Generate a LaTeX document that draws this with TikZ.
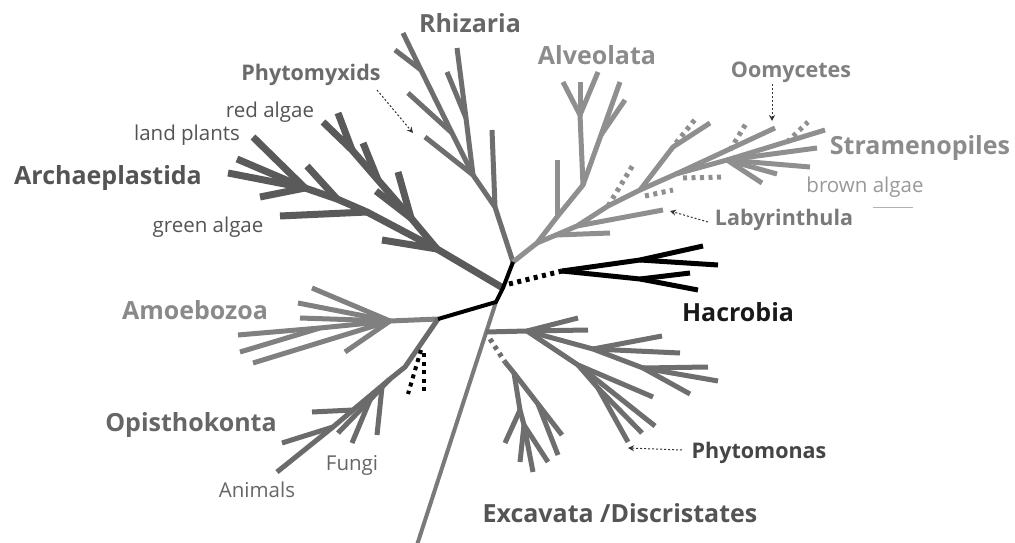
\documentclass[tikz,border=0pt]{standalone}
\usepackage{fontspec}
\setmainfont{Open Sans}
\usetikzlibrary{arrows.meta}
\definecolor{archc}{HTML}{5A5A5A}
\definecolor{rhic}{HTML}{6E6E6E}
\definecolor{strc}{HTML}{8F8F8F}
\definecolor{exc}{HTML}{6E6E6E}
\definecolor{amoc}{HTML}{808080}
\definecolor{opic}{HTML}{6B6B6B}
\definecolor{trunkc}{HTML}{7A7A7A}
\tikzset{
  br/.style={line width=5pt, line join=round, line cap=butt},
  archbr/.style={br, line width=7pt, draw=archc},
  rhibr/.style={br, draw=rhic},
  strbr/.style={br, draw=strc},
  exbr/.style={br, draw=exc},
  amobr/.style={br, draw=amoc},
  opibr/.style={br, draw=opic},
  hacbr/.style={br, draw=black},
  corebr/.style={line width=4pt, draw=black, line join=round},
  trunkbr/.style={line width=4pt, draw=trunkc},
  dotbr/.style={line width=5pt, dash pattern=on 4pt off 4.5pt, line cap=butt},
  callout/.style={draw=black!80, line width=1pt, dash pattern=on 2pt off 2pt, -{Stealth[length=6pt,width=6pt]}},
  big/.style={font=\fontsize{25}{29}\selectfont\bfseries, inner sep=0pt},
  mid/.style={font=\fontsize{21.5}{25}\selectfont\bfseries, inner sep=0pt},
  small/.style={font=\fontsize{20.5}{24}\selectfont, inner sep=0pt},
}
\begin{document}
\begin{tikzpicture}[x=1pt,y=-1pt]
\fill[white] (0,0) rectangle (1015,543);
\useasboundingbox (0,0) rectangle (1015,543);

% ---------- core coordinates
\coordinate (c1) at (513,262);
\coordinate (c2) at (503,288);
\coordinate (c3) at (496,302);
\coordinate (am0) at (438,319);
\coordinate (tb) at (417,545);
\coordinate (hd) at (509,284);

% ---------- trunk
\draw[trunkbr] (c3) -- (tb);

% ---------- Archaeplastida
\coordinate (a1) at (437,249);
\coordinate (a1l) at (382,240);
\coordinate (a2) at (367,212);
\coordinate (a2l) at (280,216);
\coordinate (a3) at (337,199);
\coordinate (a3l) at (307,166);
\coordinate (a4) at (305,188);
\coordinate (a4a) at (253,137);
\coordinate (a4b) at (237,159);
\coordinate (a4c) at (228,173);
\coordinate (a4d) at (260,197);
\coordinate (r1) at (411,218);
\coordinate (r1l) at (398,172);
\coordinate (r1s) at (376,191);
\coordinate (r2) at (378,180);
\coordinate (r2l) at (363,143);
\coordinate (r3) at (352,150);
\coordinate (r3l) at (338,113);
\coordinate (rtip) at (323,122);
\draw[archbr] (c2) -- (a1) -- (a2) -- (a3) -- (a4);
\draw[archbr] (a1) -- (a1l);
\draw[archbr] (a2) -- (a2l);
\draw[archbr] (a3) -- (a3l);
\draw[archbr] (a4) -- (a4a);
\draw[archbr] (a4) -- (a4b);
\draw[archbr] (a4) -- (a4c);
\draw[archbr] (a4) -- (a4d);
\draw[archbr] (a1) -- (r1) -- (r2) -- (r3) -- (rtip);
\draw[archbr] (r1) -- (r1l);
\draw[archbr] (r1) -- (r1s);
\draw[archbr] (r2) -- (r2l);
\draw[archbr] (r3) -- (r3l);

% ---------- Rhizaria
\coordinate (rh1) at (495,207);
\coordinate (rh1l) at (492,130);
\coordinate (rh2) at (473,175);
\coordinate (rh2a) at (466,118);
\coordinate (rh2al) at (447,72);
\coordinate (rh2l) at (457,48);
\coordinate (rh2b) at (425,137);
\coordinate (rh3) at (452,133);
\coordinate (rh3l) at (408,93);
\coordinate (rh4) at (421,70);
\coordinate (rh4l) at (395,50);
\coordinate (rhtip) at (403,33);
\draw[rhibr] (c1) -- (rh1) -- (rh2) -- (rh3) -- (rh4) -- (rhtip);
\draw[rhibr] (rh1) -- (rh1l);
\draw[rhibr] (rh2) -- (rh2a) -- (rh2l);
\draw[rhibr] (rh2a) -- (rh2al);
\draw[rhibr] (rh2) -- (rh2b);
\draw[rhibr] (rh3) -- (rh3l);
\draw[rhibr] (rh4) -- (rh4l);

% ---------- Alveolata
\coordinate (s1) at (537,243);
\coordinate (al1) at (557,217);
\coordinate (al1l) at (557,160);
\coordinate (al2) at (583,185);
\coordinate (al3) at (580,115);
\coordinate (al3a) at (563,82);
\coordinate (al3b) at (580,82);
\coordinate (al3c) at (598,72);
\coordinate (al4) at (601,135);
\coordinate (al4l) at (620,82);
\coordinate (al4a) at (625,100);
\draw[strbr] (c1) -- (s1) -- (al1) -- (al2) -- (al3);
\draw[strbr] (al1) -- (al1l);
\draw[strbr] (al3) -- (al3a);
\draw[strbr] (al3) -- (al3b);
\draw[strbr] (al3) -- (al3c);
\draw[strbr] (al2) -- (al4) -- (al4l);
\draw[strbr] (al4) -- (al4a);

% ---------- Stramenopiles
\coordinate (s2) at (556,235);
\coordinate (s2l) at (610,233);
\coordinate (s3) at (577,226);
\coordinate (s3l) at (663,210);
\coordinate (s4) at (608,206);
\coordinate (s4d) at (633,165);
\coordinate (s5) at (640,190);
\coordinate (s5a) at (673,147);
\coordinate (s5al) at (710,123);
\coordinate (s5ad0) at (676,143);
\coordinate (s5ad) at (697,117);
\coordinate (s5d0) at (645,196);
\coordinate (s5d) at (673,190);
\coordinate (s6) at (676,174);
\coordinate (s6d0) at (683,178);
\coordinate (s6d) at (723,177);
\coordinate (oo) at (775,128);
\coordinate (ood0) at (730,150);
\coordinate (ood) at (747,122);
\coordinate (s7) at (727,160);
\coordinate (s7tip) at (825,130);
\coordinate (s7a) at (817,148);
\coordinate (s7b) at (810,167);
\coordinate (s7c) at (777,174);
\coordinate (s7d) at (762,183);
\coordinate (s7d0) at (787,142);
\coordinate (s7dd) at (808,122);
\draw[strbr] (s1) -- (s2) -- (s3) -- (s4) -- (s5) -- (s6) -- (s7) -- (s7tip);
\draw[strbr] (s2) -- (s2l);
\draw[strbr] (s3) -- (s3l);
\draw[strbr] (s5) -- (s5a) -- (s5al);
\draw[strbr] (s6) -- (oo);
\draw[strbr] (s7) -- (s7a);
\draw[strbr] (s7) -- (s7b);
\draw[strbr] (s7) -- (s7c);
\draw[strbr] (s7) -- (s7d);
\draw[dotbr, draw=strc] (s4) -- (s4d);
\draw[dotbr, draw=strc] (s5ad0) -- (s5ad);
\draw[dotbr, draw=strc] (s5d0) -- (s5d);
\draw[dotbr, draw=strc] (s6d0) -- (s6d);
\draw[dotbr, draw=strc] (ood0) -- (ood);
\draw[dotbr, draw=strc] (s7d0) -- (s7dd);

% ---------- Excavata
\coordinate (e0) at (486,332);
\coordinate (e1) at (527,331);
\coordinate (e1a) at (578,318);
\coordinate (e1b) at (588,330);
\coordinate (e2) at (593,349);
\coordinate (e2a) at (662,336);
\coordinate (e2b) at (680,353);
\coordinate (e3) at (643,368);
\coordinate (e3a) at (708,367);
\coordinate (e3b) at (718,381);
\coordinate (etip) at (690,394);
\coordinate (e4) at (578,365);
\coordinate (e4a) at (653,397);
\coordinate (e4b) at (655,426);
\coordinate (e5) at (598,388);
\coordinate (e5a) at (642,433);
\coordinate (e5b) at (628,442);
\draw[exbr] (e0) -- (e1) -- (e2) -- (e3) -- (etip);
\draw[exbr] (e1) -- (e1a);
\draw[exbr] (e1) -- (e1b);
\draw[exbr] (e2) -- (e2a);
\draw[exbr] (e2) -- (e2b);
\draw[exbr] (e3) -- (e3a);
\draw[exbr] (e3) -- (e3b);
\draw[exbr] (e1) -- (e4) -- (e4a);
\draw[exbr] (e4) -- (e4b);
\draw[exbr] (e4) -- (e5) -- (e5a);
\draw[exbr] (e5) -- (e5b);

\coordinate (ed00) at (490,339);
\coordinate (ed0) at (505,362);
\coordinate (edtip) at (562,435);
\coordinate (ed1) at (514,373);
\coordinate (ed2) at (538,404);
\coordinate (ed2l) at (558,455);
\coordinate (edd) at (533,472);
\coordinate (ed3) at (520,410);
\coordinate (ed3l) at (505,443);
\coordinate (ed4) at (524,425);
\coordinate (ed4a) at (520,462);
\coordinate (ed4b) at (548,462);
\draw[dotbr, draw=exc] (ed00) -- (ed0);
\draw[exbr] (ed0) -- (ed1) -- (ed2) -- (edtip);
\draw[exbr] (ed2) -- (ed2l);
\draw[exbr] (ed1) -- (ed3) -- (ed4) -- (edd);
\draw[exbr] (ed3) -- (ed3l);
\draw[exbr] (ed4) -- (ed4a);
\draw[exbr] (ed4) -- (ed4b);

% ---------- Amoebozoa
\coordinate (am1) at (390,321);
\coordinate (am1a) at (312,288);
\coordinate (am1b) at (298,303);
\coordinate (am1c) at (300,318);
\coordinate (am1d) at (345,352);
\coordinate (am1e) at (253,363);
\coordinate (am2) at (320,328);
\coordinate (am2a) at (238,335);
\coordinate (am2b) at (240,352);
\draw[amobr] (am0) -- (am1) -- (am2) -- (am2a);
\draw[amobr] (am2) -- (am2b);
\draw[amobr] (am1) -- (am1a);
\draw[amobr] (am1) -- (am1b);
\draw[amobr] (am1) -- (am1c);
\draw[amobr] (am1) -- (am1d);
\draw[amobr] (am1) -- (am1e);

% ---------- Opisthokonta
\coordinate (op1) at (405,367);
\coordinate (fu0) at (390,379);
\coordinate (op2) at (353,410);
\coordinate (op2l) at (312,412);
\coordinate (op3) at (333,427);
\coordinate (op3l) at (282,443);
\coordinate (optip) at (277,472);
\coordinate (fu1) at (382,387);
\coordinate (fu1l) at (377,435);
\coordinate (fu2) at (370,400);
\coordinate (fu2l) at (352,443);
\coordinate (futip) at (338,433);
\draw[opibr] (am0) -- (op1) -- (fu0) -- (op2) -- (op3) -- (optip);
\draw[opibr] (op2) -- (op2l);
\draw[opibr] (op3) -- (op3l);
\draw[opibr] (fu0) -- (fu1) -- (fu2) -- (futip);
\draw[opibr] (fu1) -- (fu1l);
\draw[opibr] (fu2) -- (fu2l);
\coordinate (od0) at (421,350);
\coordinate (od1) at (408,394);
\coordinate (od2) at (424,353);
\coordinate (od3) at (424,394);
\draw[dotbr, draw=black, line width=4pt] (od0) -- (od1);
\draw[dotbr, draw=black, line width=4pt] (od2) -- (od3);

% ---------- Hacrobia
\coordinate (h0) at (562,271);
\coordinate (h1) at (640,260);
\coordinate (h1a) at (703,246);
\coordinate (h1b) at (718,265);
\coordinate (h2) at (640,279);
\coordinate (h2a) at (690,273);
\coordinate (h2b) at (698,290);
\draw[dotbr, draw=black] (hd) -- (h0);
\draw[hacbr] (h0) -- (h1) -- (h1a);
\draw[hacbr] (h1) -- (h1b);
\draw[hacbr] (h0) -- (h2) -- (h2a);
\draw[hacbr] (h2) -- (h2b);

% ---------- black core
\draw[corebr] (c1) -- (c2) -- (c3) -- (am0);

% ---------- labels
\node[big, text=black!60] (lrhi) at (470,23) {Rhizaria};
\node[big, text=black!45] (lalv) at (597,55) {Alveolata};
\node[mid, text=black!50] (loom) at (791,72) {Oomycetes};
\node[big, text=black!45] (lstr) at (920,148) {Stramenopiles};
\node[small, text=black!40] (lbrown) at (865,187) {brown algae};
\node[mid, text=black!52] (llab) at (784,220) {Labyrinthula};
\node[mid, text=black!58] (lphx) at (311,75) {Phytomyxids};
\node[small, text=black!67] (lred) at (270,112) {red algae};
\node[small, text=black!67] (lland) at (187,135) {land plants};
\node[big, text=black!67] (larch) at (108,178) {Archaeplastida};
\node[small, text=black!67] (lgreen) at (208,227) {green algae};
\node[big, text=black!46] (lamo) at (195,310) {Amoebozoa};
\node[big, text=black!60] (lopi) at (191,425) {Opisthokonta};
\node[small, text=black!60] (lfun) at (352,465) {Fungi};
\node[small, text=black!60] (lani) at (257,490) {Animals};
\node[big, text=black!90] (lhac) at (738,312) {Hacrobia};
\node[mid, text=black!73] (lphm) at (759,453) {Phytomonas};
\node[big, text=black!67] (lexc) at (620,513) {Excavata /Discristates};

\coordinate (bl0) at (873,207);
\coordinate (bl1) at (913,207);
\draw[black!30, line width=0.8pt] (bl0) -- (bl1);

% ---------- callout arrows
\coordinate (pa0) at (377,90);
\coordinate (pa1) at (413,133);
\coordinate (oa0) at (772,84);
\coordinate (oa1) at (772,121);
\coordinate (la0) at (708,222);
\coordinate (la1) at (670,211);
\coordinate (ma0) at (682,450);
\coordinate (ma1) at (628,448);
\draw[callout] (pa0) -- (pa1);
\draw[callout] (oa0) -- (oa1);
\draw[callout] (la0) -- (la1);
\draw[callout] (ma0) -- (ma1);
\end{tikzpicture}
\end{document}
